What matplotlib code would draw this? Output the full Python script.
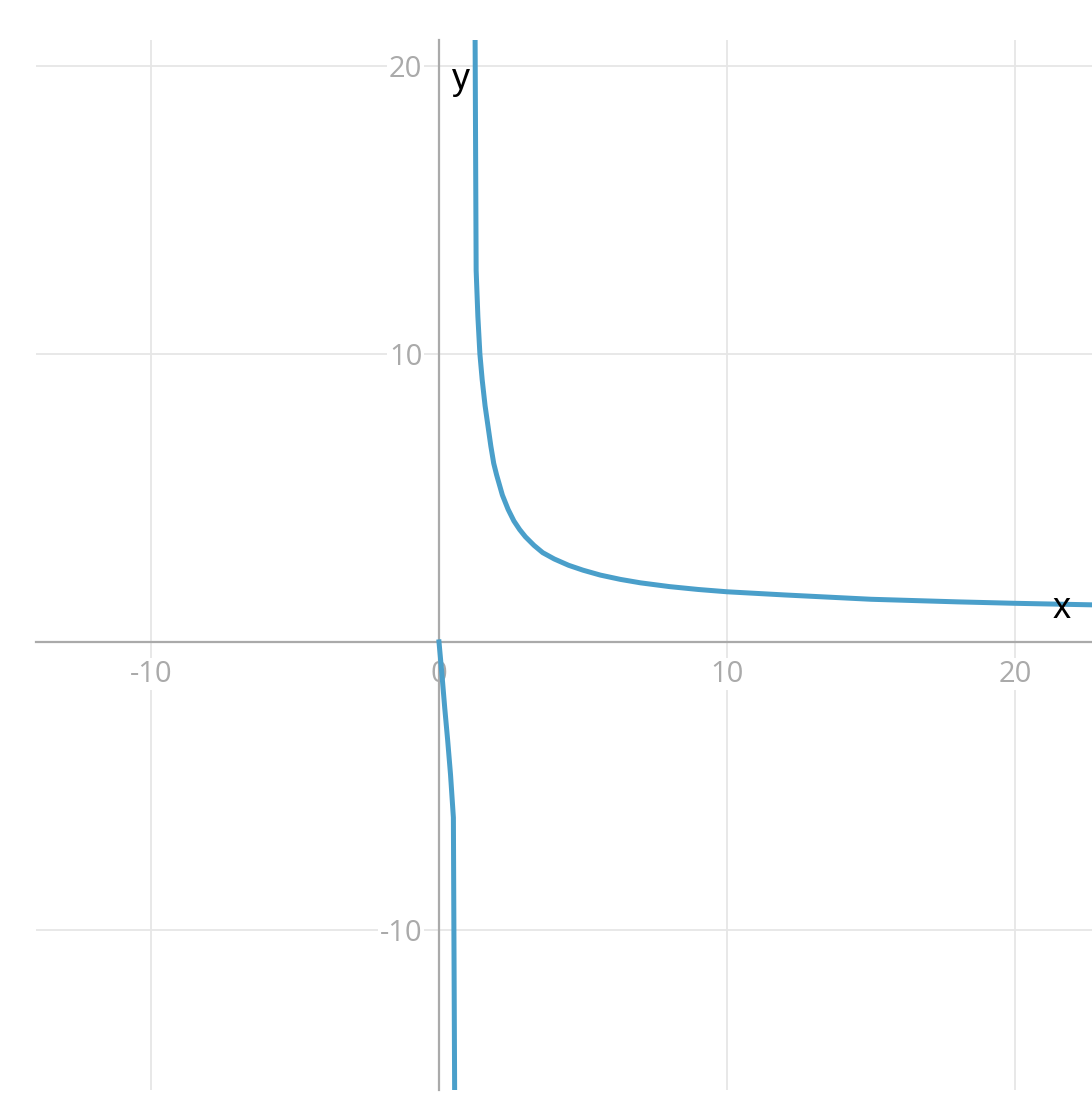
import matplotlib
matplotlib.use("Agg")
import matplotlib.pyplot as plt

# points (two branches on each side of the asymptote)
lower_x = [0.0, 0.1, 0.2, 0.3, 0.4, 0.5, 0.55]
lower_y = [0.0, -1.1, -2.3, -3.4, -4.6, -6.1, -17.0]

upper_x = [1.24, 1.29, 1.35, 1.42, 1.5, 1.6, 1.7, 1.8, 1.9, 2.0, 2.2, 2.4, 2.6,
           2.8, 3.0, 3.3, 3.6, 4.0, 4.5, 5.0, 5.6, 6.3, 7.0, 8.0, 9.0, 10.0,
           12.0, 15.0, 18.0, 20.0, 23.0]
upper_y = [24.0, 12.9, 11.3, 10.0, 9.1, 8.2, 7.5, 6.8, 6.2, 5.8, 5.1, 4.6, 4.2,
           3.9, 3.65, 3.35, 3.1, 2.88, 2.66, 2.49, 2.32, 2.17, 2.05, 1.92, 1.82,
           1.74, 1.63, 1.48, 1.39, 1.34, 1.28]

xticks = [-10, 0, 10, 20]
yticks = [-10, 10, 20]

line_col = "#4a9fca"
grid_col = "#e6e6e6"
axis_col = "#aaaaaa"
tick_col = "#aaaaaa"

fig = plt.figure(figsize=(10.92, 11.03), dpi=100)
ax = fig.add_axes([36/1092, 13/1103, 1 - 36/1092, 1050/1103])

ax.plot(lower_x, lower_y, color=line_col, lw=3.6, zorder=3,
        solid_joinstyle="round")
ax.plot(upper_x, upper_y, color=line_col, lw=3.6, zorder=3,
        solid_joinstyle="round")

ax.set_xlim(-13.99, 22.67)
ax.set_ylim(-15.56, 20.9)

ax.set_xticks(xticks)
ax.set_yticks(yticks)
ax.set_xticklabels([str(t) for t in xticks])
ax.set_yticklabels([str(t) for t in yticks])
ax.grid(True, color=grid_col, lw=1.3)
ax.set_axisbelow(True)

for s in ["top", "right"]:
    ax.spines[s].set_visible(False)
ax.spines["left"].set_position(("data", 0))
ax.spines["bottom"].set_position(("data", 0))
for s in ["left", "bottom"]:
    ax.spines[s].set_color(axis_col)
    ax.spines[s].set_linewidth(1.6)
    ax.spines[s].set_zorder(2)

ax.tick_params(axis="x", length=0, pad=13, labelsize=21, labelcolor=tick_col)
ax.tick_params(axis="y", length=0, pad=12, labelsize=21, labelcolor=tick_col)
for lbl in ax.get_xticklabels() + ax.get_yticklabels():
    lbl.set_fontfamily("Open Sans")
    lbl.set_bbox(dict(facecolor="white", edgecolor="none", pad=1))

ax.text(0.45, 19.2, "y", fontsize=26, color="black", ha="left", va="baseline",
        family="Liberation Sans", zorder=4)
ax.text(21.3, 0.83, "x", fontsize=26, color="black", ha="left", va="baseline",
        family="Liberation Sans", zorder=4)

fig.savefig("out.png", dpi=100)
